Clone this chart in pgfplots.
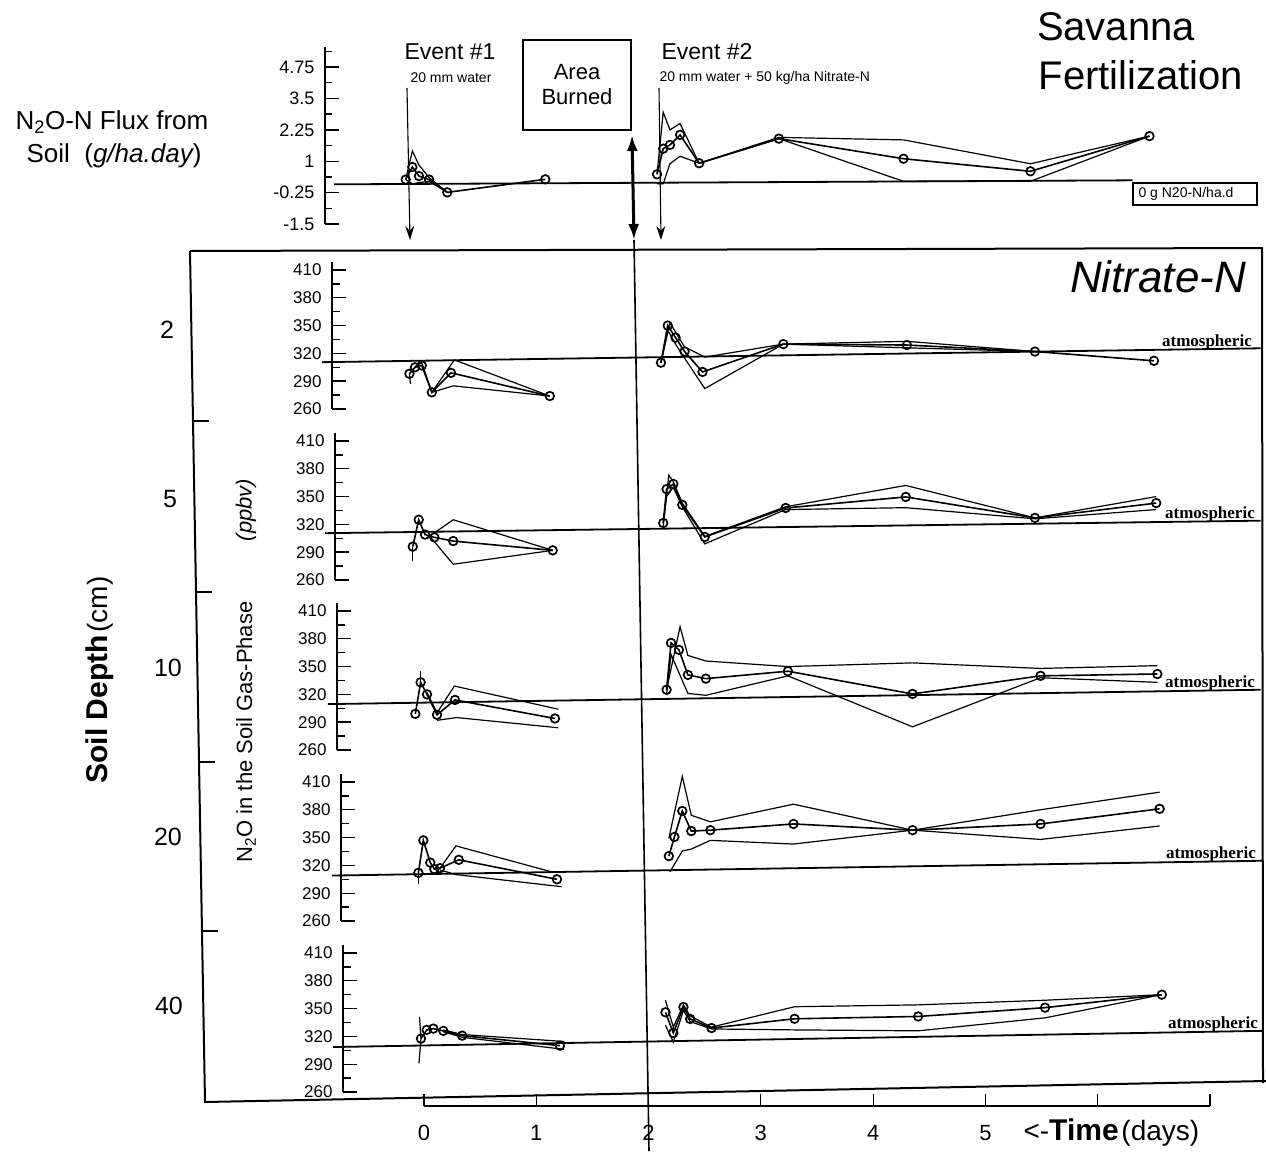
\documentclass[border=0pt]{standalone}
\usepackage{pgfplots}
\pgfplotsset{compat=1.18}
\usepackage{fontspec}
\setmainfont{Liberation Sans}
\newfontfamily\serifb{Liberation Serif}
\usetikzlibrary{arrows.meta}
\newcommand{\fs}[1]{\fontsize{#1}{#1}\selectfont}

\pgfplotsset{
  /pgf/number format/assume math mode=true,
  meanline/.style={black, line width=1.6pt, mark=o, mark size=4.3pt, mark options={solid, fill=white, line width=1.7pt}},
  envline/.style={black, line width=1.2pt, no marks},
  atmline/.style={black, line width=1.8pt, no marks},
  errline/.style={black, line width=1.2pt, no marks},
  base/.style={
    scale only axis, clip=false, anchor=south west,
    axis x line=none, axis y line=left,
    axis line style={-, line width=2pt},
    every outer y axis line/.append style={-},
    tick align=inside,
    every tick/.style={black, line width=1.4pt},
    xmax=7.462,
  },
  panel/.style={
    base,
    ymin=260, ymax=419, height=147.4pt,
    ytick={260,290,320,350,380,410}, minor ytick={275,305,335,365,395},
    major tick length=14pt, minor tick length=8pt,
    yticklabel style={font=\fs{17}, xshift=-7pt},
  },
}

\begin{document}
\begin{tikzpicture}[x=1pt,y=-1pt]
\useasboundingbox (0,0) rectangle (1266,1151);

% ---------------- Flux panel ----------------
\begin{axis}[base, at={(325pt,-224pt)}, width=937pt, height=177pt,
  xmin=-0.8816, ymin=-1.5, ymax=5.55,
  ytick={-1.5,-0.25,1,2.25,3.5,4.75}, yticklabels={-1.5,-0.25,1,2.25,3.5,4.75},
  minor ytick={-0.875,0.375,1.625,2.875,4.125,5.375},
  major tick length=14pt, minor tick length=7pt,
  yticklabel style={font=\fs{18}, xshift=-7pt}]
\addplot[atmline] coordinates {(-0.8,0.08)(6.31,0.24)};
% event 1
\addplot[envline] coordinates {(-0.163,0.27)(-0.104,1.41)(-0.045,0.85)(0.045,0.35)(0.207,-0.24)};
\addplot[envline] coordinates {(-0.163,0.27)(-0.104,0.1)(-0.045,0.15)(0.045,0.2)(0.207,-0.24)};
\addplot[meanline] coordinates {(-0.163,0.27)(-0.104,0.77)(-0.045,0.41)(0.045,0.27)(0.207,-0.24)(1.08,0.28)};
% event 2
\addplot[envline] coordinates {(2.075,0.48)(2.13,2.95)(2.19,2.25)(2.28,2.5)(2.45,0.92)(3.16,1.95)(4.27,1.85)(5.40,0.9)(6.46,2.0)};
\addplot[envline] coordinates {(2.075,0.1)(2.13,0.1)(2.19,0.9)(2.28,1.2)(2.45,0.92)(3.16,1.9)(4.27,0.2)(5.40,0.2)(6.46,2.0)};
\addplot[meanline] coordinates {(2.075,0.48)(2.13,1.5)(2.19,1.65)(2.28,2.05)(2.45,0.92)(3.16,1.9)(4.27,1.1)(5.40,0.6)(6.46,2.0)};
\end{axis}

% ---------------- 2 cm ----------------
\begin{axis}[panel, at={(332pt,-409pt)}, width=930pt, xmin=-0.8192]
\addplot[atmline] coordinates {(-0.91,310.5)(7.45,325.5)};
\addplot[errline] coordinates {(-0.12,287)(-0.13,298)};
\addplot[envline] coordinates {(-0.08,306)(-0.02,310)(0.07,278)(0.27,313)(1.12,274)};
\addplot[envline] coordinates {(0.07,278)(0.26,285)(1.12,274)};
\addplot[meanline] coordinates {(-0.13,298)(-0.08,305)(-0.02,307)(0.07,278)(0.24,299)(1.12,274)};
\addplot[envline] coordinates {(2.11,310)(2.19,353)(2.32,327)(2.5,316)(3.2,330)(4.3,333)(5.44,322)};
\addplot[envline] coordinates {(2.11,310)(2.17,345)(2.24,330)(2.32,315)(2.5,282)(3.2,330)(4.3,326)(5.44,322)};
\addplot[meanline] coordinates {(2.11,310)(2.17,350)(2.24,337)(2.32,322)(2.48,300)(3.2,330)(4.3,329)(5.44,322)(6.5,312)};
\end{axis}

% ---------------- 5 cm ----------------
\begin{axis}[panel, at={(335pt,-580pt)}, width=927pt, xmin=-0.7925]
\addplot[atmline] coordinates {(-0.88,310.5)(7.45,324)};
\addplot[errline] coordinates {(-0.10,280)(-0.10,296)};
\addplot[envline] coordinates {(0.06,308)(0.26,325)(1.146,292)};
\addplot[envline] coordinates {(0.06,306)(0.26,277)(1.146,292)};
\addplot[meanline] coordinates {(-0.10,296)(-0.047,325)(0.009,309)(0.092,306)(0.26,302)(1.146,292)};
\addplot[envline] coordinates {(2.13,321.5)(2.18,373)(2.22,366)(2.3,343)(2.5,307)(3.22,339)(4.29,362)(5.44,327)(6.52,350)};
\addplot[envline] coordinates {(2.13,318)(2.16,350)(2.22,360)(2.3,339)(2.5,299)(3.22,336)(4.29,338)(5.44,326)(6.52,336)};
\addplot[meanline] coordinates {(2.13,321.5)(2.16,358)(2.22,363.6)(2.3,341)(2.5,306.4)(3.22,337.7)(4.29,349.6)(5.44,327)(6.52,343)};
\end{axis}

% ---------------- 10 cm ----------------
\begin{axis}[panel, at={(337pt,-750pt)}, width=925pt, xmin=-0.7747]
\addplot[atmline] coordinates {(-0.855,309.5)(7.45,325)};
\addplot[errline] coordinates {(-0.03,333)(-0.03,345)};
\addplot[envline] coordinates {(0.027,322)(0.116,300)(0.27,329)(1.196,304)};
\addplot[envline] coordinates {(0.116,292)(0.29,295)(1.196,284)};
\addplot[meanline] coordinates {(-0.077,299)(-0.03,333)(0.027,320)(0.116,298)(0.276,314)(1.166,294)};
\addplot[envline] coordinates {(2.16,325)(2.28,393)(2.35,362)(2.51,356)(3.24,350)(4.35,354)(5.49,348)(6.53,351)};
\addplot[envline] coordinates {(2.16,320)(2.2,363)(2.35,321)(2.51,319)(3.24,340)(4.35,285)(5.49,338)(6.53,333)};
\addplot[meanline] coordinates {(2.16,325)(2.2,375.5)(2.27,368)(2.35,341)(2.51,337)(3.24,345)(4.35,320.5)(5.49,340)(6.53,342)};
\end{axis}

% ---------------- 20 cm ----------------
\begin{axis}[panel, at={(341pt,-921pt)}, width=921pt, xmin=-0.7391]
\addplot[atmline] coordinates {(-0.82,309)(7.46,325)};
\addplot[errline] coordinates {(-0.05,300)(-0.05,312)};
\addplot[envline] coordinates {(0.142,317)(0.285,341)(1.137,313)};
\addplot[envline] coordinates {(0.142,315)(0.29,310)(1.226,297)};
\addplot[meanline] coordinates {(-0.05,312)(-0.006,347)(0.056,323)(0.092,316)(0.142,317)(0.31,326)(1.184,305)};
\addplot[envline] coordinates {(2.18,349)(2.23,377)(2.3,416)(2.38,374)(2.55,367)(3.29,386)(4.35,358)(5.49,380)(6.55,399)};
\addplot[envline] coordinates {(2.19,313)(2.3,335.6)(2.38,337.6)(2.55,347)(3.29,343)(4.35,358)(5.49,348)(6.55,362.5)};
\addplot[meanline] coordinates {(2.18,330)(2.23,350.7)(2.3,378.7)(2.38,357)(2.55,358)(3.29,364.7)(4.35,358)(5.49,364.7)(6.55,381)};
\end{axis}

% ---------------- 40 cm ----------------
\begin{axis}[panel, at={(343pt,-1092pt)}, width=919pt, xmin=-0.7213]
\addplot[atmline] coordinates {(-0.81,308.5)(7.47,326)};
\addplot[errline] coordinates {(-0.045,291)(-0.027,317.6)(-0.04,341)};
\addplot[envline] coordinates {(0.172,327)(0.34,322)(1.25,314.5)};
\addplot[envline] coordinates {(0.172,325)(0.34,319)(1.25,306)};
\addplot[meanline] coordinates {(-0.027,317.6)(0.024,327)(0.083,328.4)(0.172,325.9)(0.34,320.8)(1.21,310)};
\addplot[envline] coordinates {(2.15,359)(2.22,330)(2.31,354)(2.37,342)(2.56,330)(3.3,352)(4.4,354)(5.53,359)(6.57,365)};
\addplot[envline] coordinates {(2.15,332)(2.22,314)(2.31,348)(2.37,336)(2.56,328)(3.3,327)(4.4,326)(5.53,340)(6.57,365)};
\addplot[meanline] coordinates {(2.15,346)(2.22,323.7)(2.31,351.7)(2.37,338.8)(2.56,329)(3.3,339)(4.4,341.5)(5.53,351)(6.57,365)};
\end{axis}

% ---------------- time axis ----------------
\begin{axis}[scale only axis, anchor=south west, at={(424pt,-1106pt)}, width=786pt, height=10pt,
  xmin=0, xmax=7, ymin=0, ymax=1, axis x line=bottom, axis y line=none,
  axis line style={-, line width=1.6pt}, every outer x axis line/.append style={-},
  xtick={0,1,2,3,4,5,6,7}, xticklabels={0,1,2,3,4,5,{},{}},
  tick align=inside, major tick length=12pt, every tick/.style={black, line width=1.2pt},
  xticklabel style={font=\fs{22}, yshift=-16pt}]
\addplot[draw=none] coordinates {(0,0)(7,1)};
\end{axis}

% ---------------- frame and annotations ----------------
\draw[line width=2pt] (190,251) -- (1262,248) -- (1263,1083);
\draw[line width=2pt] (190,251) -- (205,1102) -- (1266,1081);
\draw[line width=1.6pt] (193,421) -- (209,421);
\draw[line width=1.6pt] (196,592) -- (212,592);
\draw[line width=1.6pt] (199,762) -- (215,762);
\draw[line width=1.6pt] (202,931) -- (218,931);

\draw[line width=1.1pt, -{Stealth[length=14pt,width=9pt]}] (407,88) -- (410,240);
\draw[line width=1.1pt, -{Stealth[length=14pt,width=9pt]}] (659,88) -- (661,240);
\draw[line width=3pt, {Latex[length=16pt,width=11pt]}-{Latex[length=16pt,width=11pt]}] (632,135) -- (634,240);
\draw[line width=1.6pt] (634,240) -- (649,1151);

\draw[line width=1.2pt] (523,40) rectangle (631,130);
\node[font=\fontsize{22}{25}\selectfont, align=center] at (577,85) {Area\\Burned};

\node[font=\fs{23}] at (450,52) {Event \#1};
\node[font=\fs{14}] at (451,78) {20 mm water};
\node[font=\fs{23}] at (707,52) {Event \#2};
\node[font=\fs{14}, anchor=west] at (656,78) {20 mm water + 50 kg/ha Nitrate-N};

\node[font=\fs{40}] at (1116,27) {Savanna};
\node[font=\fs{40}] at (1141,75) {Fertilization};

\node[font=\fs{26}] at (112,122) {N\textsubscript{2}O-N Flux from};
\node[font=\fs{26}] at (114,156) {Soil\ \ ({\itshape g/ha.day})};

\draw[line width=1.2pt] (1133,183) rectangle (1257,205);
\node[font=\fs{14}, anchor=west] at (1135,194) {0 g N20-N/ha.d};

\node[font=\fs{44}\itshape] at (1158,277) {Nitrate-N};

\node[font=\fs{17}\serifb\bfseries, anchor=south east, inner sep=0pt] at (1252,350) {atmospheric};
\node[font=\fs{17}\serifb\bfseries, anchor=south east, inner sep=0pt] at (1255,522) {atmospheric};
\node[font=\fs{17}\serifb\bfseries, anchor=south east, inner sep=0pt] at (1255,691) {atmospheric};
\node[font=\fs{17}\serifb\bfseries, anchor=south east, inner sep=0pt] at (1256,862) {atmospheric};
\node[font=\fs{17}\serifb\bfseries, anchor=south east, inner sep=0pt] at (1258,1032) {atmospheric};

\node[font=\fs{25}] at (167,330) {2};
\node[font=\fs{25}] at (170,499) {5};
\node[font=\fs{25}] at (168,668) {10};
\node[font=\fs{25}] at (168,837) {20};
\node[font=\fs{25}] at (169,1006) {40};

\node[rotate=90] at (100,680) {{\fs{30}\bfseries Soil Depth} {\fs{28}(cm)}};
\node[rotate=90, font=\fs{22}] at (246,732) {N\textsubscript{2}O in the Soil Gas-Phase};
\node[rotate=90, font=\fs{22}\itshape] at (246,510) {(ppbv)};

\node[anchor=west] at (1020,1133) {{\fs{28}<-}{\fs{30}\bfseries Time} {\fs{28}(days)}};
\end{tikzpicture}
\end{document}
